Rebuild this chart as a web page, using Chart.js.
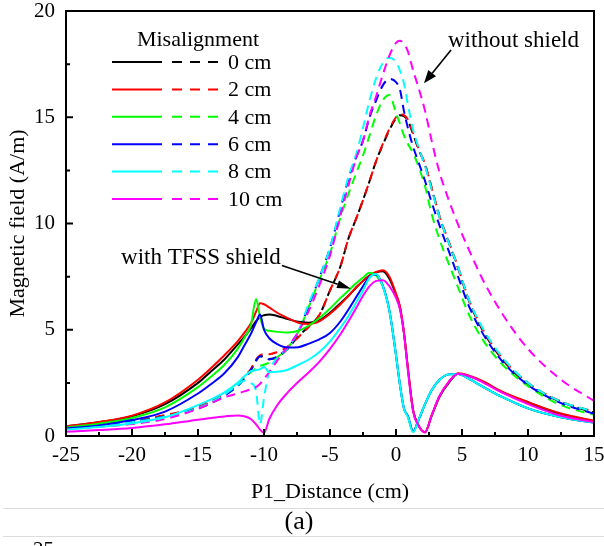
<!DOCTYPE html>
<html>
<head>
<meta charset="utf-8">
<title>Magnetic field vs P1 distance</title>
<script src="https://cdn.jsdelivr.net/npm/chart.js@4.4.1/dist/chart.umd.min.js"></script>
<style>
  html, body { margin: 0; padding: 0; background: #ffffff; }
  #wrap { width: 604px; height: 546px; position: relative; }
</style>
</head>
<body>
<div id="wrap"><canvas id="field" width="604" height="546"></canvas></div>
<script>
// Sampling positions along P1 (cm)
const distance = [-25, -22.5, -20, -17.5, -15, -14, -13, -12, -11.5, -11,
  -10.6, -10.3, -10, -9.6, -9, -8.2, -7.4, -6.6, -5.8, -5,
  -4.2, -3.6, -3, -2.5, -2, -1.5, -1, -0.5, 0, 0.3,
  0.6, 0.9, 1.3, 1.7, 2.2, 2.7, 3.3, 4, 4.7, 5.5,
  6.5, 8, 10, 12.5, 15];

// Field with the TFSS shield (A/m), one array per misalignment
const tfss0 = [0.45, 0.65, 0.93, 1.5, 2.5, 3.05, 3.6, 4.3, 4.65, 5.05,
  5.4, 5.6, 5.68, 5.72, 5.65, 5.5, 5.38, 5.33, 5.45, 5.8,
  6.25, 6.6, 7.0, 7.3, 7.55, 7.7, 7.75, 7.4, 6.65, 6.05,
  4.85, 3.2, 1.2, 0.5, 0.18, 0.95, 1.85, 2.5, 2.93, 2.83,
  2.58, 2.08, 1.58, 1.03, 0.7];
const tfss2 = [0.45, 0.66, 0.96, 1.58, 2.65, 3.2, 3.8, 4.45, 4.85, 5.3,
  5.85, 6.25, 6.2, 6.05, 5.8, 5.55, 5.33, 5.27, 5.4, 5.75,
  6.2, 6.6, 7.0, 7.3, 7.55, 7.72, 7.8, 7.5, 6.7, 6.1,
  4.9, 3.2, 1.2, 0.5, 0.18, 0.97, 1.88, 2.55, 2.95, 2.85,
  2.6, 2.1, 1.6, 1.06, 0.72];
const tfss4 = [0.4, 0.58, 0.85, 1.35, 2.3, 2.8, 3.35, 4.1, 4.6, 5.2,
  6.45, 5.6, 5.05, 4.95, 4.9, 4.87, 4.95, 5.2, 5.55, 6.0,
  6.5, 6.85, 7.2, 7.45, 7.68, 7.55, 7.05, 5.9, 3.8, 2.4,
  1.3, 0.9, 0.2, 0.75, 1.5, 2.15, 2.65, 2.9, 2.92, 2.7,
  2.35, 1.85, 1.3, 0.88, 0.63];
const tfss6 = [0.35, 0.5, 0.75, 1.15, 2.0, 2.45, 2.95, 3.7, 4.25, 4.8,
  5.35, 5.72, 5.0, 4.6, 4.32, 4.16, 4.18, 4.35, 4.55, 4.85,
  5.4, 5.95, 6.55, 7.05, 7.5, 7.6, 7.08, 5.9, 3.8, 2.4,
  1.3, 0.95, 0.22, 0.75, 1.5, 2.15, 2.65, 2.9, 2.92, 2.7,
  2.35, 1.85, 1.3, 0.88, 0.63];
const tfss8 = [0.3, 0.42, 0.6, 0.88, 1.45, 1.72, 2.05, 2.5, 2.8, 3.05,
  3.1, 3.15, 3.25, 3.0, 3.02, 3.12, 3.35, 3.6, 3.95, 4.45,
  5.1, 5.65, 6.3, 6.85, 7.45, 7.62, 7.05, 5.9, 3.8, 2.4,
  1.3, 0.9, 0.18, 0.75, 1.5, 2.15, 2.65, 2.9, 2.92, 2.7,
  2.35, 1.85, 1.3, 0.88, 0.63];
const tfss10 = [0.2, 0.28, 0.38, 0.55, 0.77, 0.85, 0.92, 0.97, 0.93, 0.8,
  0.55, 0.3, 0.15, 0.8, 1.45, 2.05, 2.55, 3.0, 3.5, 4.1,
  4.8, 5.4, 6.05, 6.6, 7.05, 7.3, 7.33, 7.05, 6.5, 5.95,
  4.85, 3.1, 1.15, 0.5, 0.16, 0.97, 1.88, 2.55, 2.93, 2.82,
  2.55, 2.05, 1.5, 0.95, 0.65];

// Field without shield (A/m)
const bare0 = [0.42, 0.55, 0.72, 0.95, 1.35, 1.6, 1.95, 2.4, 2.75, 3.1,
  3.55, 3.75, 3.75, 3.62, 3.7, 4.1, 4.7, 5.15, 5.7, 6.85,
  8.0, 9.3, 10.25, 11.1, 12.0, 12.95, 13.7, 14.4, 14.95, 15.1,
  15.05, 14.85, 14.2, 13.5, 12.75, 11.65, 10.3, 9.1, 7.9, 6.4,
  5.05, 3.65, 2.45, 1.6, 1.1];
const bare2 = [0.43, 0.56, 0.74, 0.98, 1.38, 1.65, 2.0, 2.45, 2.8, 3.15,
  3.6, 3.8, 3.85, 3.85, 3.95, 4.2, 4.65, 5.15, 5.7, 6.85,
  8.0, 9.3, 10.25, 11.1, 12.0, 12.95, 13.75, 14.45, 15.0, 15.15,
  15.1, 14.9, 14.25, 13.55, 12.8, 11.7, 10.35, 9.15, 7.95, 6.45,
  5.1, 3.7, 2.5, 1.63, 1.15];
const bare4 = [0.4, 0.52, 0.68, 0.92, 1.3, 1.55, 1.9, 2.35, 2.7, 3.0,
  3.2, 3.3, 3.35, 3.45, 3.7, 4.15, 4.9, 6.1, 7.35, 8.6,
  10.3, 11.4, 12.4, 13.2, 14.15, 15.1, 15.8, 16.05, 15.2, 14.7,
  14.15, 13.75, 13.3, 12.7, 11.75, 10.45, 9.25, 8.1, 7.0, 5.75,
  4.6, 3.4, 2.35, 1.45, 1.0];
const bare6 = [0.4, 0.52, 0.68, 0.92, 1.3, 1.55, 1.9, 2.35, 2.7, 3.1,
  3.55, 3.75, 3.7, 3.6, 3.75, 4.15, 4.9, 6.15, 7.45, 8.85,
  10.7, 12.1, 13.15, 13.9, 15.0, 15.8, 16.5, 16.8, 16.65, 16.3,
  15.3, 14.5, 13.6, 12.9, 12.0, 11.0, 9.9, 8.7, 7.5, 6.15,
  4.9, 3.55, 2.4, 1.55, 1.05];
const bare8 = [0.38, 0.5, 0.65, 0.9, 1.3, 1.6, 1.95, 2.4, 2.6, 2.5,
  2.1, 0.55, 1.8, 3.05, 3.65, 4.15, 4.95, 6.25, 7.45, 8.85,
  10.8, 12.2, 13.3, 14.5, 15.8, 16.85, 17.55, 17.8, 17.6, 17.2,
  16.6, 15.6, 14.4, 13.6, 12.7, 11.6, 10.3, 9.1, 7.95, 6.45,
  5.15, 3.75, 2.5, 1.62, 1.15];
const bare10 = [0.33, 0.43, 0.56, 0.8, 1.28, 1.55, 1.82, 2.0, 2.1, 2.2,
  2.3, 2.45, 2.7, 3.0, 3.55, 4.2, 4.9, 5.9, 7.1, 8.5,
  10.4, 11.8, 13.1, 13.9, 15.1, 16.0, 17.0, 17.9, 18.5, 18.6,
  18.45, 18.1, 17.2, 16.4, 15.3, 13.9, 12.4, 11.1, 9.95, 8.8,
  7.45, 5.8, 4.1, 2.65, 1.65];

const misalignment = ['0 cm', '2 cm', '4 cm', '6 cm', '8 cm', '10 cm'];
const lineColors = ['#000000', '#ff0000', '#00ff00', '#0000ff', '#00ffff', '#ff00ff'];
const withShield = [tfss0, tfss2, tfss4, tfss6, tfss8, tfss10];
const withoutShield = [bare0, bare2, bare4, bare6, bare8, bare10];

const SERIF = "'Liberation Serif', 'Times New Roman', serif";
const DASH = [9, 6];

const toPoints = ys => ys.map((v, i) => ({ x: distance[i], y: v }));

// dashed curves underneath, solid curves on top; later entries drawn above earlier ones
const datasets = [];
withoutShield.forEach((ys, k) => datasets.push({
  label: misalignment[k] + ' without shield',
  data: toPoints(ys),
  borderColor: lineColors[k],
  borderWidth: 2,
  borderDash: DASH,
  pointRadius: 0,
  fill: false,
  cubicInterpolationMode: 'monotone'
}));
withShield.forEach((ys, k) => datasets.push({
  label: misalignment[k] + ' with TFSS shield',
  data: toPoints(ys),
  borderColor: lineColors[k],
  borderWidth: 2,
  pointRadius: 0,
  fill: false,
  cubicInterpolationMode: 'monotone'
}));
datasets.forEach((d, i) => { d.order = datasets.length - i; });

function arrow(ctx, x0, y0, x1, y1, headLen, headHalf) {
  const ang = Math.atan2(y1 - y0, x1 - x0);
  const bx = x1 - headLen * Math.cos(ang), by = y1 - headLen * Math.sin(ang);
  ctx.beginPath();
  ctx.moveTo(x0, y0);
  ctx.lineTo(bx, by);
  ctx.stroke();
  ctx.beginPath();
  ctx.moveTo(x1, y1);
  ctx.lineTo(bx + headHalf * Math.sin(ang), by - headHalf * Math.cos(ang));
  ctx.lineTo(bx - headHalf * Math.sin(ang), by + headHalf * Math.cos(ang));
  ctx.closePath();
  ctx.fill();
}

const decorations = {
  id: 'decorations',
  afterDatasetsDraw(chart) {
    const { ctx, chartArea: a, scales: { x, y } } = chart;
    ctx.save();
    ctx.strokeStyle = '#000';
    ctx.fillStyle = '#000';
    ctx.setLineDash([]);

    // frame
    ctx.lineWidth = 2;
    ctx.strokeRect(a.left, a.top, a.right - a.left, a.bottom - a.top);

    // inward tick marks: majors from the scale ticks, minors halfway between
    const xMajor = x.ticks.map(t => t.value);
    const yMajor = y.ticks.map(t => t.value);
    ctx.beginPath();
    xMajor.forEach((v, i) => {
      const px = x.getPixelForValue(v);
      ctx.moveTo(px, a.bottom); ctx.lineTo(px, a.bottom - 7);
      if (i < xMajor.length - 1) {
        const pm = x.getPixelForValue((v + xMajor[i + 1]) / 2);
        ctx.moveTo(pm, a.bottom); ctx.lineTo(pm, a.bottom - 4);
      }
    });
    yMajor.forEach((v, i) => {
      const py = y.getPixelForValue(v);
      ctx.moveTo(a.left, py); ctx.lineTo(a.left + 7, py);
      if (i < yMajor.length - 1) {
        const pm = y.getPixelForValue((v + yMajor[i + 1]) / 2);
        ctx.moveTo(a.left, pm); ctx.lineTo(a.left + 4, pm);
      }
    });
    ctx.stroke();

    // legend
    ctx.font = '22px ' + SERIF;
    ctx.textBaseline = 'alphabetic';
    ctx.textAlign = 'center';
    ctx.fillText('Misalignment', a.left + 132, a.top + 35);
    ctx.textAlign = 'left';
    ctx.textBaseline = 'middle';
    misalignment.forEach((name, k) => {
      const ry = a.top + 51 + k * 27.4;
      ctx.strokeStyle = lineColors[k];
      ctx.lineWidth = 2;
      ctx.setLineDash([]);
      ctx.beginPath(); ctx.moveTo(a.left + 46, ry); ctx.lineTo(a.left + 96, ry); ctx.stroke();
      ctx.setLineDash([10, 8]);
      ctx.beginPath(); ctx.moveTo(a.left + 106, ry); ctx.lineTo(a.left + 155, ry); ctx.stroke();
      ctx.setLineDash([]);
      ctx.fillStyle = '#000';
      ctx.fillText(name, a.left + 162, ry + 1);
    });

    // annotations
    ctx.strokeStyle = '#000';
    ctx.fillStyle = '#000';
    ctx.lineWidth = 1.6;
    ctx.font = '23px ' + SERIF;
    ctx.textBaseline = 'alphabetic';
    ctx.textAlign = 'left';
    ctx.fillText('without shield', x.getPixelForValue(3.94), y.getPixelForValue(18.3));
    arrow(ctx, x.getPixelForValue(4.17), y.getPixelForValue(18.16),
      x.getPixelForValue(2.12), y.getPixelForValue(16.6), 13, 5);
    ctx.fillText('with TFSS shield', x.getPixelForValue(-20.83), y.getPixelForValue(8.11));
    arrow(ctx, x.getPixelForValue(-8.64), y.getPixelForValue(8.02),
      x.getPixelForValue(-3.41), y.getPixelForValue(6.93), 14, 4);
    ctx.restore();
  },
  afterDraw(chart) {
    const { ctx } = chart;
    ctx.save();
    // figure caption strip below the plot
    ctx.strokeStyle = '#dcdcdc';
    ctx.lineWidth = 1;
    ctx.beginPath();
    ctx.moveTo(3, 508.5); ctx.lineTo(604, 508.5);
    ctx.moveTo(3, 536.5); ctx.lineTo(604, 536.5);
    ctx.stroke();
    ctx.fillStyle = '#000';
    ctx.font = '26px ' + SERIF;
    ctx.textAlign = 'center';
    ctx.textBaseline = 'alphabetic';
    ctx.fillText('(a)', 299, 529);
    ctx.font = '21px ' + SERIF;
    ctx.textAlign = 'left';
    ctx.fillText('25', 33, 556);
    ctx.restore();
  }
};

const tickFont = { family: SERIF, size: 21, lineHeight: 1 };
const titleFont = { family: SERIF, size: 22 };

// fixed axis band sizes so the plot frame sits at a set place on the canvas
function fixBand(size, horizontal) {
  return s => {
    if (horizontal) s.height = size; else s.width = size;
    s.paddingTop = 0; s.paddingBottom = 0; s.paddingLeft = 0; s.paddingRight = 0;
  };
}

new Chart(document.getElementById('field'), {
  type: 'line',
  data: { datasets },
  options: {
    responsive: false,
    animation: false,
    devicePixelRatio: 1,
    layout: { padding: { top: 11, right: 10, bottom: 0, left: 0 } },
    plugins: { legend: { display: false }, tooltip: { enabled: false } },
    scales: {
      x: {
        type: 'linear',
        min: -25, max: 15,
        ticks: { stepSize: 5, color: '#000', font: tickFont, padding: 9, maxRotation: 0, autoSkip: false },
        grid: { display: false, drawTicks: false },
        border: { display: false },
        title: { display: true, text: 'P1_Distance (cm)', color: '#000', font: titleFont, padding: { top: 0, bottom: 41 } },
        afterFit: fixBand(110, true)
      },
      y: {
        type: 'linear',
        min: 0, max: 20,
        ticks: { stepSize: 5, color: '#000', font: tickFont, padding: 11 },
        grid: { display: false, drawTicks: false },
        border: { display: false },
        title: { display: true, text: 'Magnetic field (A/m)', color: '#000', font: titleFont, padding: { top: 5, bottom: 0 } },
        afterFit: fixBand(66, false)
      }
    }
  },
  plugins: [decorations]
});
</script>
</body>
</html>
